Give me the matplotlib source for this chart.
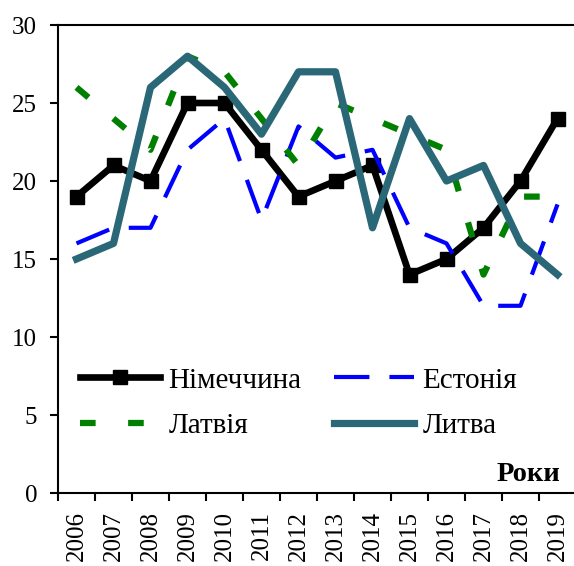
import numpy as np
import matplotlib.pyplot as plt
from matplotlib.ticker import FixedLocator, NullFormatter

plt.rcParams['font.family'] = ['Liberation Serif', 'DejaVu Serif']

# дані
years = ['2006', '2007', '2008', '2009', '2010', '2011', '2012',
         '2013', '2014', '2015', '2016', '2017', '2018', '2019']
germany = [19, 21, 20, 25, 25, 22, 19, 20, 21, 14, 15, 17, 20, 24]
estonia = [16, 17, 17, 22, 24, 17.5, 23.5, 21.5, 22, 17, 16, 12, 12, 18.5]
latvia = [26, 24, 22, 28, 27, 24, 21, 25, 24, 23, 22, 14, 19, 19]
lithuania = [15, 16, 26, 28, 26, 23, 27, 27, 17, 24, 20, 21, 16, 14]
labels = ['Німеччина', 'Естонія', 'Латвія', 'Литва']
y_ticks = [0, 5, 10, 15, 20, 25, 30]

fig = plt.figure(figsize=(5.74, 5.66), dpi=100)
ax = fig.add_axes([58/574, 73/566, 518/574, 468/566])

x = np.arange(len(years))
l1, = ax.plot(x, germany, color='black', lw=4.8, marker='s', markersize=10.5,
              solid_joinstyle='miter')
l2, = ax.plot(x, estonia, color='#0000ff', lw=3.0, linestyle=(0, (8.5, 4.8)))
l3, = ax.plot(x, latvia, color='#008000', lw=4.5, linestyle=(0, (2.5, 5.2)))
l4, = ax.plot(x, lithuania, color='#2a6777', lw=5.2)

ax.set_xlim(-0.5, 13.5)
ax.set_ylim(0, 30)
ax.set_yticks(y_ticks)
ax.tick_params(axis='y', labelsize=18, length=6, width=1.5, pad=9, direction='out')

# мітки між роками, підписи по центру
ax.xaxis.set_major_locator(FixedLocator(np.arange(-0.5, 14, 1)))
ax.xaxis.set_major_formatter(NullFormatter())
ax.xaxis.set_minor_locator(FixedLocator(x))
ax.set_xticklabels(years, minor=True, rotation=90)
ax.tick_params(axis='x', which='major', length=6, width=1.5, direction='out')
ax.tick_params(axis='x', which='minor', length=0, labelsize=18, pad=13)

for s in ['left', 'bottom', 'top']:
    ax.spines[s].set_linewidth(1.5)
ax.spines['right'].set_visible(False)

ax.legend([l1, l3, l2, l4], [labels[0], labels[2], labels[1], labels[3]],
          ncol=2, frameon=False, fontsize=21, handlelength=2.75,
          handletextpad=0.28, columnspacing=1.1, labelspacing=0.65,
          numpoints=1, loc='upper left', bbox_to_anchor=(0.043, 0.269),
          borderpad=0, borderaxespad=0)

ax.text(0.969, 0.04, 'Роки', transform=ax.transAxes, ha='right', va='center',
        fontsize=20.5, fontweight='bold')

plt.savefig('out.png', dpi=100)
